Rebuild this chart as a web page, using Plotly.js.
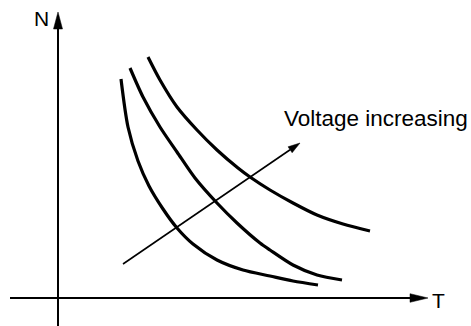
<!DOCTYPE html>
<html>
<head>
<meta charset="utf-8">
<script src="https://cdn.plot.ly/plotly-3.0.1.min.js"></script>
<style>html,body{margin:0;padding:0;background:#fff;}#chart{width:471px;height:326px;}</style>
</head>
<body>
<div id="chart"></div>
<script>
// Curve data (T = torque, N = speed), arbitrary units, origin at axis crossing
const curve1T = [6.3, 7.0, 8.0, 9.1, 10.5, 11.9, 13.5, 15.9, 18.5, 21.2, 23.5, 26.0];
const curve1N = [21.9, 17.1, 13.7, 11.2, 8.9, 7.0, 5.4, 3.8, 2.8, 2.2, 1.7, 1.3];
const curve2T = [7.2, 8.5, 10.2, 11.9, 13.7, 15.9, 17.9, 20.2, 21.2, 23.5, 25.9, 28.4];
const curve2N = [23.0, 20.1, 17.1, 14.6, 12.0, 9.5, 7.5, 5.5, 4.8, 3.3, 2.3, 1.8];
const curve3T = [9.0, 10.2, 11.9, 13.9, 15.9, 18.0, 19.2, 21.2, 23.5, 25.9, 28.5, 31.2];
const curve3N = [24.1, 21.8, 19.1, 16.8, 14.8, 13.0, 12.1, 10.8, 9.5, 8.3, 7.4, 6.7];

const arrowFrom = [6.5, 3.4];
const arrowTo = [24.2, 15.5];
const arrowLabel = 'Voltage increasing';
const xLabel = 'T';
const yLabel = 'N';

const xRange = [-5.8, 41.3];
const yRange = [-2.8, 29.8];
const xAxisEnd = 37.0, xAxisStart = -4.8;
const yAxisEnd = 28.6, yAxisStart = -2.8;

const W = 471, H = 326;
const pxPerX = W / (xRange[1] - xRange[0]);
const pxPerY = H / (yRange[1] - yRange[0]);

// arrowhead polygon built from tip, direction, and pixel sizes
function headPath(tip, from, lenPx, halfPx) {
  const dxp = (tip[0] - from[0]) * pxPerX, dyp = (tip[1] - from[1]) * pxPerY;
  const L = Math.hypot(dxp, dyp);
  const ux = dxp / L, uy = dyp / L;
  const bx = -ux * lenPx, by = -uy * lenPx;
  const px = -uy * halfPx, py = ux * halfPx;
  const p1 = [tip[0] + (bx + px) / pxPerX, tip[1] + (by + py) / pxPerY];
  const p2 = [tip[0] + (bx - px) / pxPerX, tip[1] + (by - py) / pxPerY];
  const base = [tip[0] + bx / pxPerX, tip[1] + by / pxPerY];
  return {d: `M${tip[0]},${tip[1]} L${p1[0]},${p1[1]} L${p2[0]},${p2[1]} Z`, base: base};
}

const xHead = headPath([xAxisEnd, 0], [xAxisStart, 0], 18, 4.3);
const yHead = headPath([0, yAxisEnd], [0, yAxisStart], 17, 4.5);
const vHead = headPath(arrowTo, arrowFrom, 12, 3.6);

const curveLine = {color: '#000', width: 3.2, shape: 'spline', smoothing: 0.8};
const traces = [
  {x: curve1T, y: curve1N, mode: 'lines', line: curveLine, hoverinfo: 'skip'},
  {x: curve2T, y: curve2N, mode: 'lines', line: curveLine, hoverinfo: 'skip'},
  {x: curve3T, y: curve3N, mode: 'lines', line: curveLine, hoverinfo: 'skip'}
];

const shapes = [
  {type: 'line', xref: 'x', yref: 'y', x0: xAxisStart, y0: 0, x1: xHead.base[0] + 0.2, y1: 0, line: {color: '#000', width: 2}},
  {type: 'line', xref: 'x', yref: 'y', x0: 0, y0: yAxisStart, x1: 0, y1: yHead.base[1] + 0.2, line: {color: '#000', width: 2}},
  {type: 'path', xref: 'x', yref: 'y', path: xHead.d, fillcolor: '#000', line: {color: '#000', width: 0.5}},
  {type: 'path', xref: 'x', yref: 'y', path: yHead.d, fillcolor: '#000', line: {color: '#000', width: 0.5}},
  {type: 'line', xref: 'x', yref: 'y', x0: arrowFrom[0], y0: arrowFrom[1], x1: vHead.base[0], y1: vHead.base[1], line: {color: '#000', width: 1.6}},
  {type: 'path', xref: 'x', yref: 'y', path: vHead.d, fillcolor: '#000', line: {color: '#000', width: 0.5}}
];

const font = {family: 'Liberation Sans, Arial, sans-serif', color: '#000'};
const annotations = [
  {x: -1.7, y: 28.0, text: yLabel, showarrow: false, xanchor: 'center', yanchor: 'middle', font: Object.assign({size: 21}, font)},
  {x: 38.0, y: -0.2, text: xLabel, showarrow: false, xanchor: 'center', yanchor: 'middle', font: Object.assign({size: 21}, font)},
  {x: 31.75, y: 18.0, text: arrowLabel, showarrow: false, xanchor: 'center', yanchor: 'middle', font: Object.assign({size: 22.5}, font)}
];

const layout = {
  width: W, height: H,
  margin: {l: 0, r: 0, t: 0, b: 0, pad: 0},
  paper_bgcolor: '#fff', plot_bgcolor: '#fff',
  showlegend: false,
  xaxis: {range: xRange, visible: false, fixedrange: true},
  yaxis: {range: yRange, visible: false, fixedrange: true},
  shapes: shapes,
  annotations: annotations
};

Plotly.newPlot('chart', traces, layout, {displayModeBar: false, staticPlot: true});
</script>
</body>
</html>
